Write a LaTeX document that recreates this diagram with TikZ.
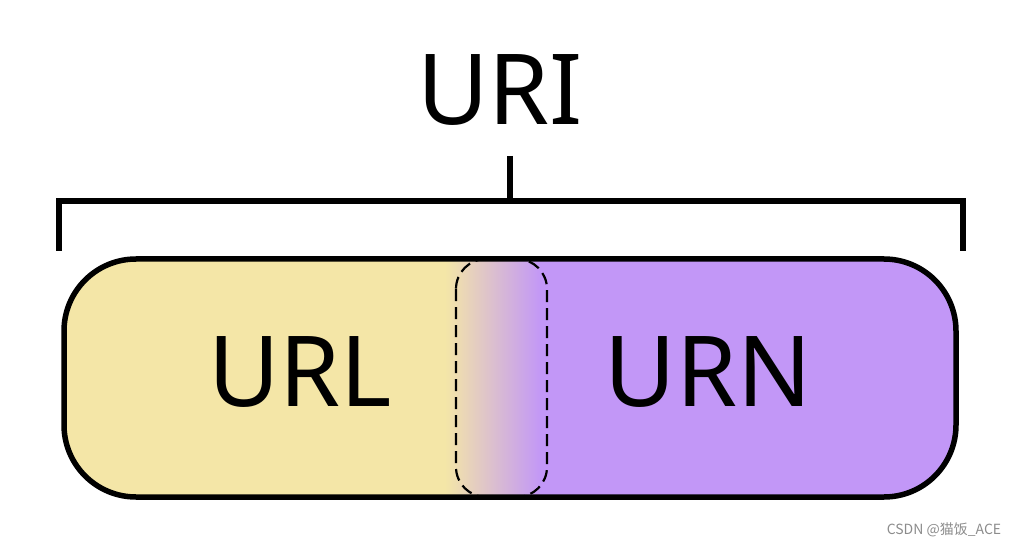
\documentclass[tikz,border=0pt]{standalone}
\usepackage{fontspec}
\setmainfont{Noto Sans}
\newfontfamily\cjk{Noto Sans CJK SC}
\begin{document}
\begin{tikzpicture}[x=1pt,y=-1pt]
				\definecolor{urlyellow}{HTML}{F4E6A7}
				\definecolor{urnpurple}{HTML}{C297F7}
				\tikzstyle{big}=[font=\fontsize{98}{98}\selectfont, inner sep=0pt]
				\tikzstyle{edge}=[line width=5.5pt, line join=miter]
				\tikzstyle{pill}=[rounded corners=72pt]

				\useasboundingbox (0,0) rectangle (1023,548);

				% fill of the pill
				\begin{scope}
				\clip[pill] (64,259) rectangle (956,497);
				\fill[urlyellow] (64,259) rectangle (446,497);
				\shade[left color=urlyellow, right color=urnpurple] (445,259) rectangle (541,497);
				\fill[urnpurple] (540,259) rectangle (956,497);
				\end{scope}
				\draw[line width=2.2pt, dash pattern=on 12pt off 6pt, rounded corners=30pt] (456,259) rectangle (547,497);
				\draw[edge, pill] (64,259) rectangle (956,497);

				\node[big] (uri) at (500,90) {URI};
				\node[big] (url) at (300,372) {URL};
				\node[big] (urn) at (708,372) {URN};
				\node[text=black!45, font=\cjk\fontsize{14}{14}\selectfont, inner sep=0pt] (mark) at (944,530) {CSDN @猫饭\_ACE};

				% bracket
				\coordinate (bl) at (59,251);
				\coordinate (br) at (963,251);
				\coordinate (top) at (510,156);
				\draw[edge] (bl) |- (br |- 0,201) -- (br);
				\draw[edge] (top) -- (top |- 0,201);
			\end{tikzpicture}
\end{document}
